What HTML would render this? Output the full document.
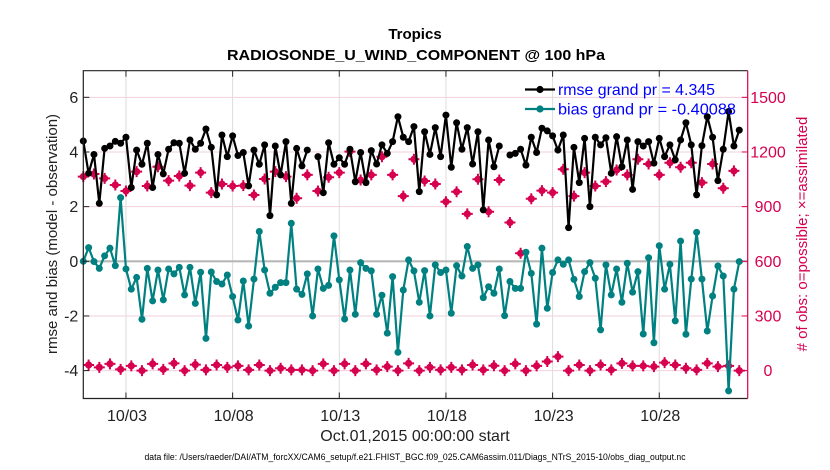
<!DOCTYPE html>
<html><head><meta charset="utf-8"><style>
html,body{margin:0;padding:0;background:#fff;}
svg{display:block;font-family:"Liberation Sans",Arial,sans-serif;}
</style></head><body>
<svg id="chart" width="830" height="470" viewBox="0 0 830 470" xmlns="http://www.w3.org/2000/svg">
<text x="415" y="39" text-anchor="middle" font-size="15" font-weight="bold">Tropics</text>
<text x="416" y="60" text-anchor="middle" font-size="15" font-weight="bold" textLength="378" lengthAdjust="spacingAndGlyphs">RADIOSONDE_U_WIND_COMPONENT @ 100 hPa</text>
<g id="grid"></g>
<g id="marks"></g>
<g id="axes"></g>
<g>
<line x1="525" y1="89.5" x2="555" y2="89.5" stroke="#000" stroke-width="2.2"/>
<circle cx="540" cy="89.5" r="3.6" fill="#000"/>
<text x="558" y="95" font-size="16" fill="#0000ff" textLength="157" lengthAdjust="spacingAndGlyphs">rmse grand pr = 4.345</text>
<line x1="525" y1="109" x2="555" y2="109" stroke="#008080" stroke-width="2.2"/>
<circle cx="540" cy="109" r="3.6" fill="#008080"/>
<text x="558" y="114.5" font-size="16" fill="#0000ff" textLength="178" lengthAdjust="spacingAndGlyphs">bias grand pr = -0.40088</text>
</g>
<text transform="translate(57,234) rotate(-90)" text-anchor="middle" font-size="15" fill="#222">rmse and bias (model - observation)</text>
<text transform="translate(807,234) rotate(-90)" text-anchor="middle" font-size="15" fill="#d6004f"># of obs: o=possible; ×=assimilated</text>
<text x="415" y="441" text-anchor="middle" font-size="16" fill="#222">Oct.01,2015 00:00:00 start</text>
<text x="415" y="460" text-anchor="middle" font-size="9" fill="#000" textLength="541" lengthAdjust="spacingAndGlyphs">data file: /Users/raeder/DAI/ATM_forcXX/CAM6_setup/f.e21.FHIST_BGC.f09_025.CAM6assim.011/Diags_NTrS_2015-10/obs_diag_output.nc</text>
</svg>
<script>
const xTickDays = [2,7,12,17,22,27];
const xTickLabels = ["10/03","10/08","10/13","10/18","10/23","10/28"];
const yLeftTicks = [-4,-2,0,2,4,6];
const yRightTicks = [0,300,600,900,1200,1500];
const rmse = [4.40,3.22,3.91,2.12,4.13,4.22,4.39,4.32,4.54,2.70,4.07,3.55,4.32,2.70,3.91,3.20,4.10,4.34,4.32,3.22,4.44,4.10,4.32,4.84,4.17,2.43,4.62,3.83,4.59,3.87,
3.98,2.76,4.07,3.55,4.26,1.67,4.22,3.16,4.38,2.12,4.13,3.49,4.07,null,3.83,2.51,4.34,3.55,3.79,3.55,4.10,2.91,3.98,2.88,4.05,3.56,4.26,3.95,4.38,5.29,4.54,4.38,
4.93,2.55,4.74,3.91,4.89,3.83,5.35,3.44,5.07,4.10,4.89,3.56,4.74,1.88,4.44,3.46,4.22,null,3.89,3.95,4.10,3.52,4.54,3.98,4.87,4.77,4.59,4.07,4.62,1.23,4.17,2.88,
4.50,2.00,4.54,4.26,4.52,3.22,4.56,3.46,4.44,2.63,4.38,4.22,4.38,3.59,4.50,3.83,4.26,3.71,4.44,5.07,4.26,2.43,4.23,5.29,4.54,2.95,4.10,5.48,4.22,4.80];
const bias = [0,0.5,-0.01,-0.26,0.2,0.48,-0.16,2.33,-0.28,-1.02,-0.59,-2.12,-0.26,-1.45,-0.32,-1.41,-0.28,-0.46,-0.22,-1.23,-0.22,-1.54,-0.40,-2.82,-0.39,-0.74,-0.83,-0.50,-1.29,-2.15,
-0.72,-2.37,-0.65,1.09,-0.32,-1.17,-0.95,-0.78,-0.78,1.39,-1.02,-1.21,-0.46,-2.0,-0.28,-0.99,-0.88,0.93,-0.68,-2.11,-0.32,-1.94,-0.05,-0.26,-0.35,-1.94,-1.24,-2.63,-0.56,-3.33,-1.05,0.05,
-0.35,-1.50,-0.34,-2.0,-0.13,-0.41,-0.32,-1.90,-0.16,-0.54,0.54,-0.26,-0.13,-1.33,-0.93,-1.17,-0.28,-1.99,-0.74,-0.99,-0.99,0.33,-0.44,-2.30,0.48,-1.72,-0.41,0.05,-0.11,0.05,-0.66,-1.29,
-0.38,-0.05,-0.62,-2.51,-0.13,-1.23,-0.28,-1.50,-0.07,-1.13,-0.38,-2.66,0.13,-2.98,0.57,-1.02,-0.11,-2.18,0.74,-2.67,-0.65,1.06,-0.65,-2.55,-1.27,-0.17,-0.54,-4.74,-1.02,-0.01];
const obsPossible = [1065,1079,1055,1019,986,1092,1013,1119,1043,1068,1015,1087,977,1024,1013,1015,
964,1052,1092,1065,946,1074,986,1061,1087,1202,1046,1074,1174,1074,958,
1160,1041,1024,927,982,860,1050,872,1046,813,644,943,988,977,1105,958,
1087,1013,1037,1101,1074,1160,1134,1074,1141,1116,1141,1032,1134,1001,1096];
const obsAssim = [31,18,37,7,26,0,37,7,40,0,33,4,31,18,26,
4,31,0,13,4,4,0,37,0,37,0,37,4,22,0,40,
0,18,4,18,4,31,4,27,0,37,0,26,50,77,0,31,
0,31,4,40,26,26,22,44,31,13,4,40,22,26,0];

const NS="http://www.w3.org/2000/svg";
const L=83.3,R=747.7,T=70.7,B=398.5;
const pxPerStep=5.333;
function xIdx(i){return L+i*pxPerStep;}
function xDay(d){return L+d*4*pxPerStep;}
function yL(v){return 261.3-27.33*v;}
function yR(c){return yL(c/150-4);}
function mk(tag,attrs,parent){const e=document.createElementNS(NS,tag);for(const k in attrs)e.setAttribute(k,attrs[k]);parent.appendChild(e);return e;}
const grid=document.getElementById('grid'),marks=document.getElementById('marks'),axes=document.getElementById('axes');
// grid
yRightTicks.forEach(c=>{if(c===600)return;const l=mk('line',{x1:L,x2:R,y1:yR(c),y2:yR(c),stroke:'#f3cfdc','stroke-width':1},grid);

});
xTickDays.forEach(d=>{const l=mk('line',{x1:xDay(d),x2:xDay(d),y1:T,y2:B,stroke:'#dcdcdc','stroke-width':1},grid);

});
const zl=mk('line',{x1:L,x2:R,y1:yL(0),y2:yL(0),stroke:'#b8b8b8','stroke-width':2.2},grid);


// obs markers
function obsMarker(x,y,name){const g=mk('g',{},marks);


mk('circle',{cx:x,cy:y,r:3.6,fill:'#d6004f'},g);
mk('path',{d:`M${x-5.5} ${y}H${x+5.5}M${x} ${y-5.5}V${y+5.5}`,stroke:'#d6004f','stroke-width':2},g);}
obsPossible.forEach((c,k)=>obsMarker(xIdx(2*k),yR(c),'obs-possible-point'));
obsAssim.forEach((c,k)=>obsMarker(xIdx(2*k+1),yR(c),'obs-assimilated-point'));
// series
function series(vals,color,name){let d='';let pen=false;
vals.forEach((v,i)=>{if(v===null){pen=false;return;}d+=(pen?'L':'M')+xIdx(i).toFixed(1)+' '+yL(v).toFixed(1);pen=true;});
const p=mk('path',{d:d,fill:'none',stroke:color,'stroke-width':2.2,'stroke-linejoin':'round'},marks);


vals.forEach((v,i)=>{if(v===null)return;const c=mk('circle',{cx:xIdx(i),cy:yL(v),r:3.5,fill:color},marks);

});}
series(bias,'#008080','bias');
series(rmse,'#000000','rmse');
// frame
const fr=mk('path',{d:`M${R} ${T}H${L}V${B}H${R}`,fill:'none',stroke:'#222','stroke-width':1.2},axes);


const ra=mk('line',{x1:R,x2:R,y1:T,y2:B,stroke:'#d6004f','stroke-width':1.2},axes);


yLeftTicks.forEach(v=>{mk('line',{x1:L,x2:L+6,y1:yL(v),y2:yL(v),stroke:'#222'},axes);
const t=mk('text',{x:L-5,y:yL(v)+5.5,'text-anchor':'end','font-size':16,fill:'#222'},axes);t.textContent=v;

});
yRightTicks.forEach(c=>{mk('line',{x1:R-6,x2:R,y1:yR(c),y2:yR(c),stroke:'#d6004f'},axes);
const t=mk('text',{x:768,y:yR(c)+5.5,'text-anchor':'middle','font-size':16,fill:'#d6004f'},axes);t.textContent=c;

});
xTickDays.forEach((d,k)=>{mk('line',{x1:xDay(d),x2:xDay(d),y1:B-6,y2:B,stroke:'#222'},axes);
mk('line',{x1:xDay(d),x2:xDay(d),y1:T,y2:T+6,stroke:'#222'},axes);
const t=mk('text',{x:xDay(d)+1,y:421,'text-anchor':'middle','font-size':16,fill:'#222'},axes);t.textContent=xTickLabels[k];

});
</script>
</body></html>
